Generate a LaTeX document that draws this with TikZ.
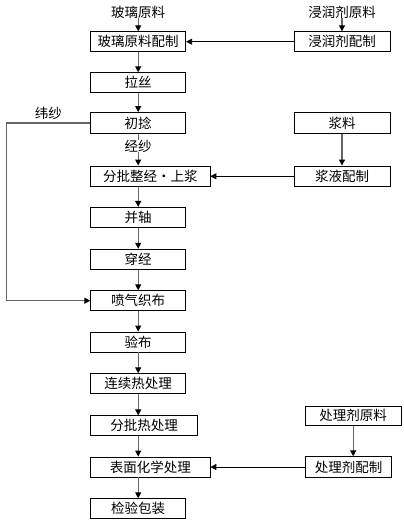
\documentclass[tikz,border=0pt]{standalone}
\usepackage{fontspec}
\setmainfont{Noto Sans CJK SC}
\usetikzlibrary{arrows.meta,positioning}

\begin{document}
\begin{tikzpicture}[x=1pt, y=-1pt,
        box/.style={rectangle, draw=black, line width=0.8pt, minimum width=95pt,
                    minimum height=20pt, inner sep=0pt, font=\fontsize{13.5}{16}\selectfont},
        lbl/.style={inner sep=0pt, font=\fontsize{13.5}{16}\selectfont},
        flow/.style={-{Triangle[length=6pt,width=6pt,color=black]}, line width=1.1pt, draw=gray!80!black},
        feed/.style={-{Triangle[length=6pt,width=6pt]}, line width=0.8pt, draw=black}]
        \useasboundingbox (0,0) rectangle (404,522);
        % left column
        \node[lbl] (glassraw) at (138.2,12) {玻璃原料};
        \node[box] (peizhi)   at (138.2,41.7)  {玻璃原料配制};
        \node[box] (lasi)     at (138.2,82.7)  {拉丝};
        \node[box, minimum height=21pt] (chunian) at (138.2,123) {初捻};
        \node[box, minimum width=119.3pt, minimum height=20.7pt] (zhengjing) at (150.3,176.3) {分批整经・上浆};
        \node[box] (bingzhou) at (138.2,217.3) {并轴};
        \node[box] (chuanjing) at (138.2,259.2) {穿经};
        \node[box] (penqi)    at (138.2,300.7) {喷气织布};
        \node[box] (yanbu)    at (138.2,342)   {验布};
        \node[box] (lianxu)   at (138.2,383.7) {连续热处理};
        \node[box, minimum width=106.6pt] (fenpi) at (144,425.8) {分批热处理};
        \node[box, minimum width=119.3pt] (biaomian) at (150.3,467) {表面化学处理};
        \node[box] (jianyan)  at (138.2,508.7) {检验包装};
        % right column
        \node[lbl] (sizeraw)  at (342,12)  {浸润剂原料};
        \node[box, minimum width=96pt] (sizepz)   at (342,41.7) {浸润剂配制};
        \node[box, minimum width=96pt, minimum height=21pt] (jiangliao) at (342,123) {浆料};
        \node[box, minimum width=96pt, minimum height=20.7pt] (jiangye) at (342,176.3) {浆液配制};
        \node[box, minimum width=95.7pt, minimum height=19.3pt] (treatraw) at (353.2,415.7) {处理剂原料};
        \node[box, minimum width=86.4pt, minimum height=20.6pt] (treatpz) at (348.5,467) {处理剂配制};
        % main flow
        \draw[flow] (glassraw) -- (peizhi);
        \draw[flow] (peizhi) -- (lasi);
        \draw[flow] (lasi) -- (chunian);
        \draw[flow] (chunian) -- node[lbl, fill=white, pos=0.38] (jingsha) {经纱} (chunian |- zhengjing.north);
        \draw[flow] (zhengjing.south -| bingzhou) -- (bingzhou);
        \draw[flow] (bingzhou) -- (chuanjing);
        \draw[flow] (chuanjing) -- (penqi);
        \draw[flow] (penqi) -- (yanbu);
        \draw[flow] (yanbu) -- (lianxu);
        \draw[flow] (lianxu) -- (lianxu |- fenpi.north);
        \draw[flow] (fenpi.south -| lianxu) -- (lianxu |- biaomian.north);
        \draw[flow] (biaomian.south -| jianyan) -- (jianyan);
        % weft loop
        \draw[flow] (chunian.west) -- node[lbl, above=3pt] (weisha) {纬纱} ++(-84,0) |- (penqi.west);
        % side feeds
        \draw[flow] (sizeraw) -- (sizepz);
        \draw[feed] (sizepz) -- (peizhi);
        \draw[flow] (jiangliao) -- (jiangye);
        \draw[feed] (jiangye) -- (zhengjing);
        \draw[flow] (treatraw) -- (treatraw |- treatpz.north);
        \draw[feed] (treatpz) -- (biaomian);
    \end{tikzpicture}
\end{document}
